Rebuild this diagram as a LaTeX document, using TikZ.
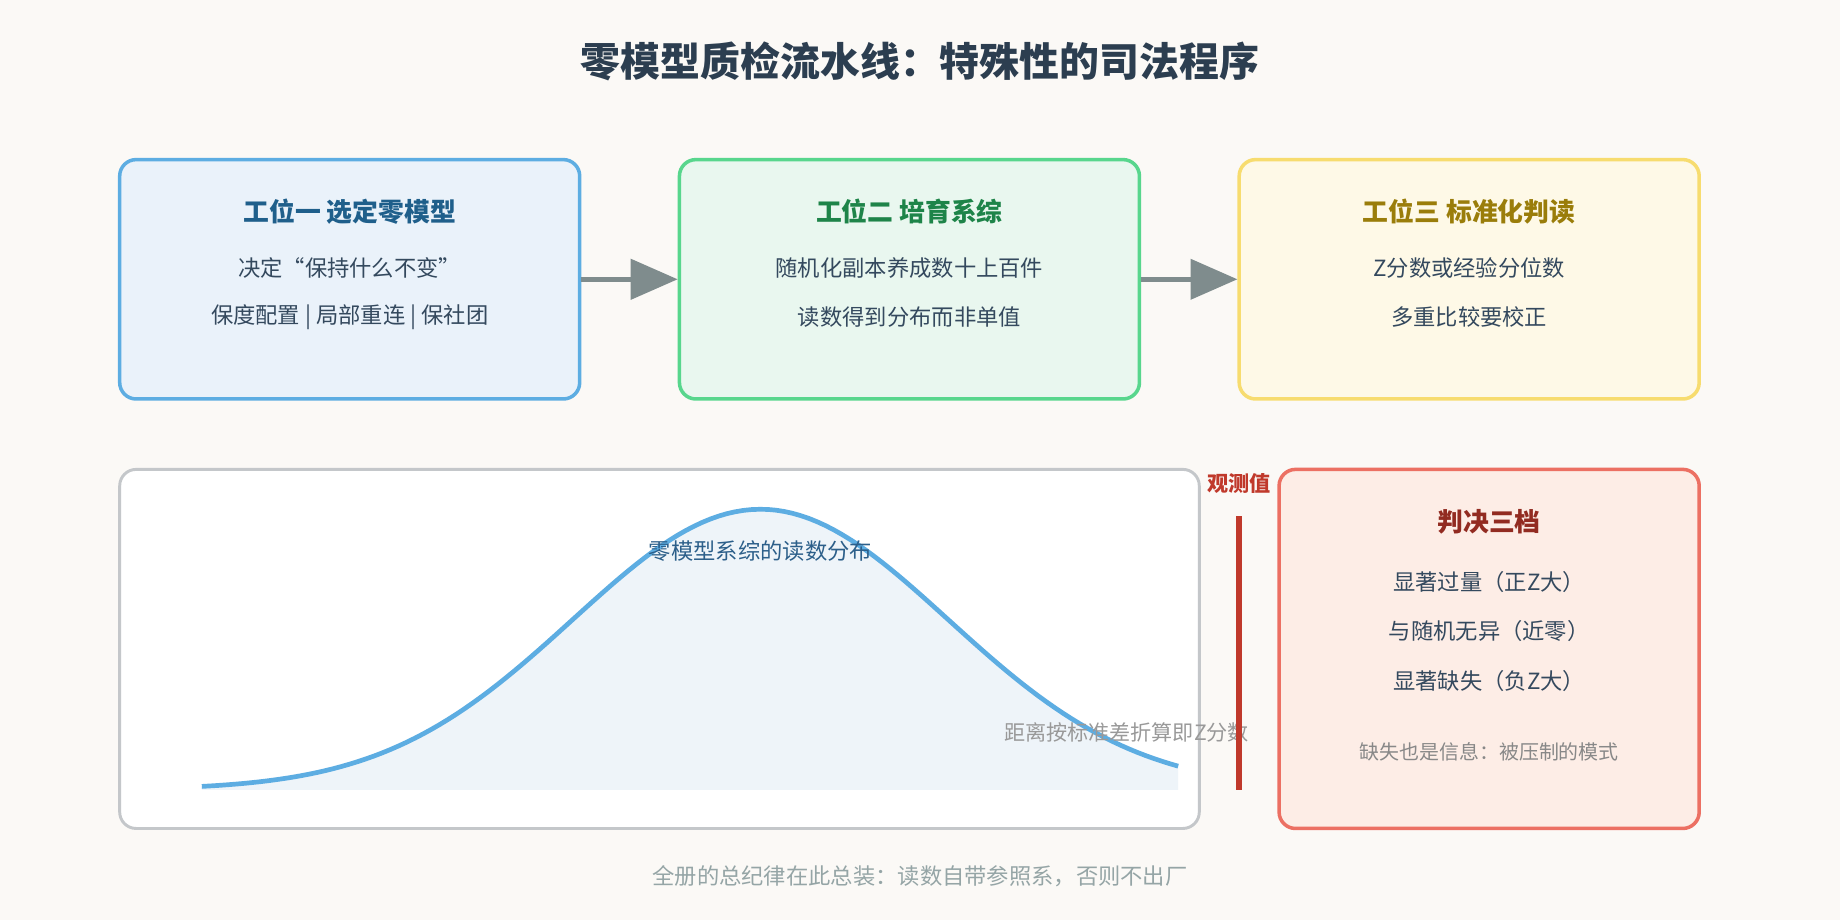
\documentclass[tikz,border=0pt]{standalone}
\usepackage{fontspec}
\setmainfont{Noto Sans CJK SC}
\usetikzlibrary{arrows.meta}
\definecolor{bg}{HTML}{FBF9F6}
\definecolor{ink}{HTML}{2C3E50}
\definecolor{body}{HTML}{34495E}
\definecolor{mute}{HTML}{95A5A6}
\definecolor{arr}{HTML}{7F8C8D}
\definecolor{bluebd}{HTML}{5DADE2}
\definecolor{bluefl}{HTML}{EAF2FA}
\definecolor{bluett}{HTML}{1F5F8B}
\definecolor{grnbd}{HTML}{58D68D}
\definecolor{grnfl}{HTML}{E9F7EF}
\definecolor{grntt}{HTML}{1E8449}
\definecolor{ylwbd}{HTML}{F7DC6F}
\definecolor{ylwfl}{HTML}{FEF9E7}
\definecolor{ylwtt}{HTML}{9A7D0A}
\definecolor{panbd}{HTML}{C4C7CA}
\definecolor{curvefl}{HTML}{EEF4F9}
\definecolor{distlb}{HTML}{2C5F8A}
\definecolor{zlb}{HTML}{999999}
\definecolor{obsred}{HTML}{C0392B}
\definecolor{redbd}{HTML}{EC7063}
\definecolor{redfl}{HTML}{FDEDE6}
\definecolor{redtt}{HTML}{922B21}
\definecolor{note}{HTML}{888888}
\tikzset{
 box/.style={draw, line width=3pt, rounded corners=14pt},
 ttl/.style={font=\fontsize{22}{26}\selectfont\bfseries},
 txt/.style={font=\fontsize{19}{23}\selectfont, text=body},
 flow/.style={draw=arr, line width=4pt, -{Triangle[length=40pt,width=34pt]}},
}
\begin{document}
\begin{tikzpicture}[x=1pt,y=-1pt]
\fill[bg] (0,0) rectangle (1568,784);
\useasboundingbox (0,0) rectangle (1568,784);
\node[font=\fontsize{34}{40}\selectfont\bfseries, text=ink] (title) at (784,52) {零模型质检流水线：特殊性的司法程序};
% stations
\node[box, draw=bluebd, fill=bluefl, minimum width=392pt, minimum height=204pt] (s1) at (298,238) {};
\node[box, draw=grnbd, fill=grnfl, minimum width=392pt, minimum height=204pt] (s2) at (775,238) {};
\node[box, draw=ylwbd, fill=ylwfl, minimum width=392pt, minimum height=204pt] (s3) at (1252,238) {};
\node[ttl, text=bluett] (t1) at (298,180) {工位一 选定零模型};
\node[txt] (a1) at (298,228) {决定“保持什么不变”};
\node[txt] (b1) at (298,270) {保度配置 | 局部重连 | 保社团};
\node[ttl, text=grntt] (t2) at (775,180) {工位二 培育系综};
\node[txt] (a2) at (775,228) {随机化副本养成数十上百件};
\node[txt] (b2) at (775,270) {读数得到分布而非单值};
\node[ttl, text=ylwtt] (t3) at (1252,180) {工位三 标准化判读};
\node[txt] (a3) at (1252,228) {Z分数或经验分位数};
\node[txt] (b3) at (1252,270) {多重比较要校正};
\draw[flow] (s1.east) -- (s2.west);
\draw[flow] (s2.east) -- (s3.west);
% distribution panel
\node[draw=panbd, line width=2.5pt, fill=white, rounded corners=14pt, minimum width=920pt, minimum height=306pt] (panel) at (562,553) {};
\fill[curvefl] (172,673) -- plot[domain=172:1004, samples=120] (\x,{673-239*exp(-((\x-648)/160)^2/2)}) -- (1004,673) -- cycle;
\draw[bluebd, line width=4pt] plot[domain=172:1004, samples=120] (\x,{673-239*exp(-((\x-648)/160)^2/2)});
\node[txt, text=distlb] (dl) at (648,470) {零模型系综的读数分布};
\node[font=\fontsize{18}{22}\selectfont, text=zlb] (zl) at (960,624) {距离按标准差折算即Z分数};
% observed
\coordinate (o1) at (1056,440);
\coordinate (o2) at (1056,673);
\draw[obsred, line width=5pt] (o1) -- (o2);
\node[font=\fontsize{18}{22}\selectfont\bfseries, text=obsred] (obs) at (1056,412) {观测值};
% verdict box
\node[box, draw=redbd, fill=redfl, minimum width=358pt, minimum height=306pt] (v) at (1269,553) {};
\node[ttl, text=redtt] (vt) at (1269,445) {判决三档};
\node[txt] (v1) at (1269,496) {显著过量（正Z大）};
\node[txt] (v2) at (1269,538) {与随机无异（近零）};
\node[txt] (v3) at (1269,580) {显著缺失（负Z大）};
\node[font=\fontsize{17}{21}\selectfont, text=note] (vn) at (1269,641) {缺失也是信息：被压制的模式};
\node[txt, text=mute] (foot) at (784,747) {全册的总纪律在此总装：读数自带参照系，否则不出厂};
\end{tikzpicture}
\end{document}
